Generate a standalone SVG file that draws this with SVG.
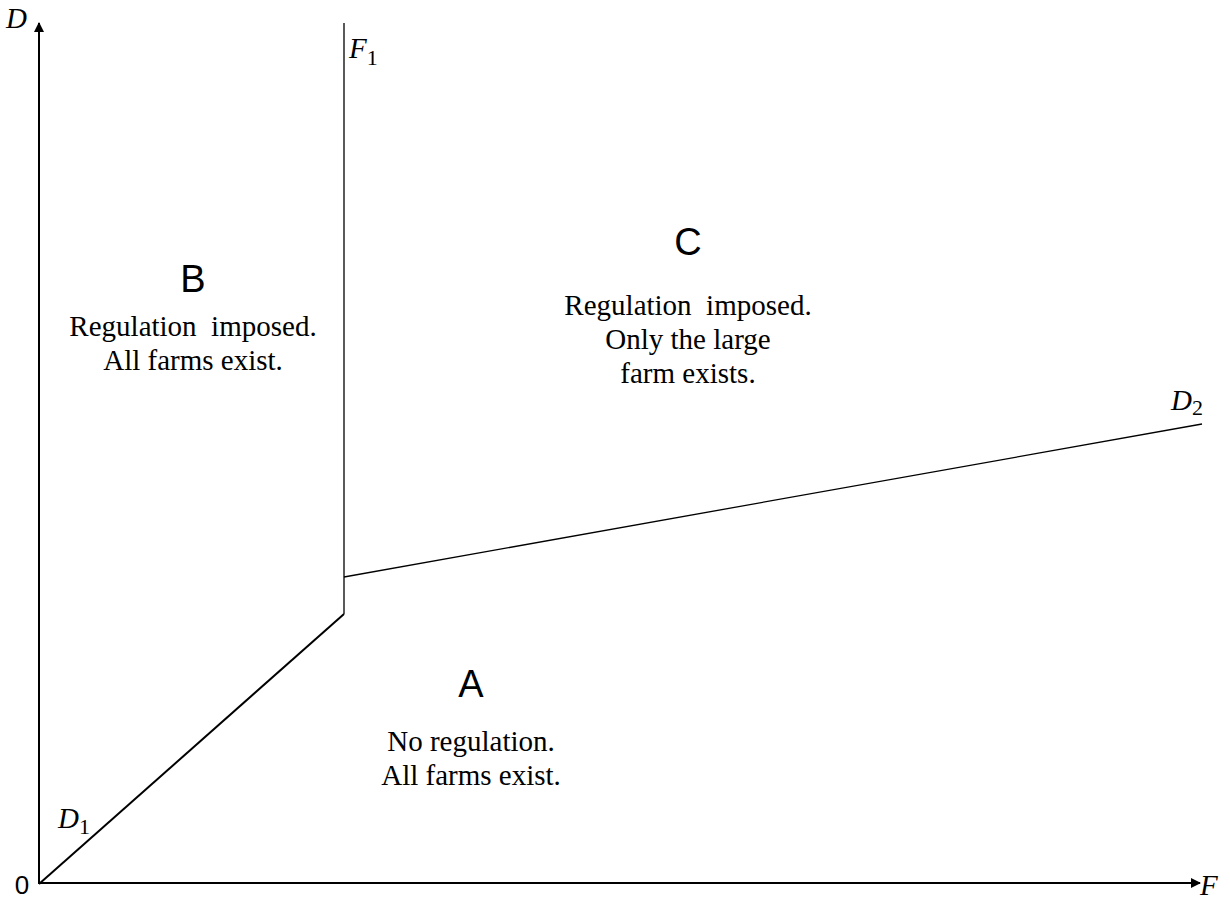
<svg xmlns="http://www.w3.org/2000/svg" width="1230" height="899" viewBox="0 0 1230 899">
<style>
.ax{stroke:#000;stroke-width:2;fill:none}
.ln{stroke:#000;stroke-width:1.3;fill:none}
.lbl{font-family:"Liberation Sans",Arial,sans-serif;font-size:38px;fill:#000;text-anchor:middle}
.txt{font-family:"Liberation Serif","Times New Roman",serif;font-size:29px;fill:#000;text-anchor:middle;white-space:pre}
.var{font-family:"Liberation Serif","Times New Roman",serif;font-style:italic;font-size:29px;fill:#000}
.sub{font-family:"Liberation Serif","Times New Roman",serif;font-style:normal;font-size:22px}
.zero{font-family:"Liberation Sans",Arial,sans-serif;font-size:26px;fill:#000;text-anchor:middle}
</style>
<defs>
<marker id="arr" markerWidth="10" markerHeight="10" refX="9" refY="5" orient="auto" markerUnits="userSpaceOnUse">
<path d="M0,0 L10,5 L0,10 Z" fill="#000"/>
</marker>
</defs>
<rect width="1230" height="899" fill="#fff"/>
<g id="connectors">
<line class="ax" x1="39" y1="884" x2="39" y2="23" marker-end="url(#arr)"/>
<line class="ax" x1="38" y1="883" x2="1200" y2="883" marker-end="url(#arr)"/>
<line class="ax" x1="39" y1="884" x2="344" y2="614"/>
<line class="ln" x1="344" y1="614" x2="344" y2="23"/>
<line class="ln" x1="344" y1="577" x2="1202" y2="424"/>
</g>
<g id="axis-labels">
<text class="var" x="6" y="28">D</text>
<text class="var" x="1200" y="895">F</text>
<text class="zero" x="22" y="894">0</text>
<text class="var" x="349" y="58">F<tspan class="sub" dy="7">1</tspan></text>
<text class="var" x="58" y="828">D<tspan class="sub" dy="6">1</tspan></text>
<text class="var" x="1171" y="410">D<tspan class="sub" dy="5">2</tspan></text>
</g>
<g id="region-B">
<text class="lbl" x="193" y="292">B</text>
<text class="txt" x="193" y="336">Regulation  imposed.</text>
<text class="txt" x="193" y="370">All farms exist.</text>
</g>
<g id="region-C">
<text class="lbl" x="688" y="255">C</text>
<text class="txt" x="688" y="315">Regulation  imposed.</text>
<text class="txt" x="688" y="349">Only the large</text>
<text class="txt" x="688" y="383">farm exists.</text>
</g>
<g id="region-A">
<text class="lbl" x="471" y="697">A</text>
<text class="txt" x="471" y="751">No regulation.</text>
<text class="txt" x="471" y="785">All farms exist.</text>
</g>
</svg>
